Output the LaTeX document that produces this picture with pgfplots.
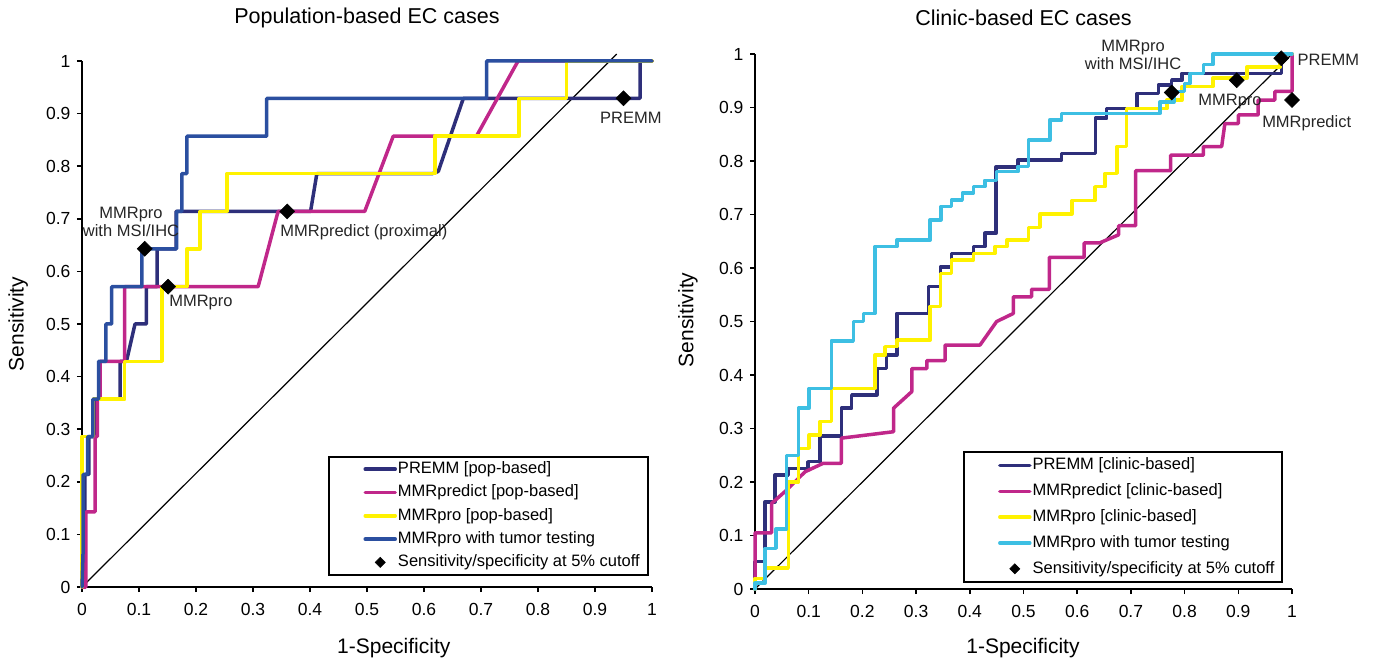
\documentclass[border=0pt]{standalone}
\usepackage{pgfplots}
\pgfplotsset{compat=1.18}
\usepackage{fontspec}
\setmainfont{Liberation Sans}
\definecolor{premm}{HTML}{2E2F7A}
\definecolor{mmrpredict}{HTML}{C0278A}
\definecolor{mmrpro}{HTML}{FFF200}
\definecolor{tumorL}{HTML}{2B4FA0}
\definecolor{tumorR}{HTML}{3DBFE3}

\tikzset{lab/.style={font=\fontsize{16.5}{18}\selectfont, text=black!85}}
\pgfplotsset{
  rocaxis/.style={
    scale only axis,
    xmin=0, xmax=1, ymin=0, ymax=1,
    axis x line=bottom, axis y line=left,
    axis line style={-, line width=2pt, black},
    tick align=outside,
    major tick length=5pt,
    tick style={line width=1.5pt, black},
    xtick={0,0.1,0.2,0.3,0.4,0.5,0.6,0.7,0.8,0.9,1},
    ytick={0,0.1,0.2,0.3,0.4,0.5,0.6,0.7,0.8,0.9,1},
    xticklabels={0,0.1,0.2,0.3,0.4,0.5,0.6,0.7,0.8,0.9,1},
    yticklabels={0,0.1,0.2,0.3,0.4,0.5,0.6,0.7,0.8,0.9,1},
    ticklabel style={font=\fontsize{17.5}{20}\selectfont},
    xticklabel style={yshift=-8pt},
    yticklabel style={xshift=-3pt},
    /pgf/number format/assume math mode=true,
    clip=false,
    label style={font=\fontsize{21}{25}\selectfont},
    legend cell align=left,
    legend style={
      draw=black, line width=2pt,
      font=\fontsize{16.5}{19}\selectfont,
      inner xsep=7pt, inner ysep=4pt,
      row sep=7pt,
      nodes={inner xsep=1pt, inner ysep=0pt, text height=12.5pt, text depth=3.8pt},
    },
  },
  roc/.style={line width=3.5pt, line join=round, line cap=round,
    legend image code/.code={\path[draw=none] (0pt,0pt) -- (29pt,0pt); \draw[##1] (29pt,0pt) -- (59pt,0pt);}},
  diam/.style={only marks, mark=square*, mark size=5.3pt, mark options={rotate=45, fill=black, draw=black, line width=0.5pt}},
  diamleg/.style={only marks, mark=square*, mark size=3.6pt, mark options={rotate=45, fill=black, draw=black, line width=0.5pt},
    legend image code/.code={\path[draw=none] (0pt,0pt) -- (29pt,0pt); \draw[##1] plot coordinates {(44pt,0pt)};}},
}

\begin{document}
\begin{tikzpicture}[x=1pt,y=1pt]
\useasboundingbox (0,0) rectangle (1373,664);

% ---------------- Left: population-based ----------------
\begin{axis}[rocaxis,
  at={(82pt,77pt)}, anchor=south west,
  width=570pt, height=526pt,
  title={Population-based EC cases},
  title style={at={(axis description cs:0.5,1.0706)}, anchor=center, font=\fontsize{21.5}{25}\selectfont},
  xlabel={1-Specificity},
  xlabel style={at={(axis description cs:0.547,-0.116)}, anchor=center},
  ylabel={Sensitivity},
  ylabel style={at={(axis description cs:-0.112,0.5)}, anchor=center},
  legend style={at={(axis description cs:0.432,0.249)}, anchor=north west},
]
\addplot[black, line width=1.2pt, forget plot] coordinates {(0,0) (0.938,1.013)};

\addplot[roc, premm] coordinates {
(0,0) (0,0.071) (0.005,0.071) (0.005,0.214) (0.012,0.214) (0.012,0.286) (0.022,0.286) (0.022,0.357)
(0.067,0.357) (0.067,0.429) (0.078,0.429) (0.093,0.5) (0.113,0.5) (0.113,0.571) (0.132,0.571)
(0.132,0.643) (0.165,0.643) (0.165,0.714) (0.401,0.714) (0.412,0.786) (0.615,0.786) (0.625,0.79)
(0.669,0.929) (0.979,0.929) (0.979,1) (1,1)};
\addlegendentry{PREMM [pop-based]}

\addplot[roc, mmrpredict] coordinates {
(0,0) (0.007,0) (0.007,0.143) (0.023,0.143) (0.023,0.286) (0.027,0.286) (0.027,0.357) (0.032,0.357)
(0.032,0.429) (0.075,0.429) (0.075,0.571) (0.309,0.571) (0.344,0.714) (0.496,0.714) (0.546,0.857)
(0.692,0.857) (0.765,1) (1,1)};
\addlegendentry{MMRpredict [pop-based]}

\addplot[roc, mmrpro] coordinates {
(0,0) (0,0.286) (0.02,0.286) (0.02,0.357) (0.075,0.357) (0.075,0.429) (0.14,0.429) (0.14,0.571)
(0.184,0.571) (0.184,0.643) (0.207,0.643) (0.207,0.714) (0.254,0.714) (0.254,0.786) (0.619,0.786)
(0.619,0.857) (0.767,0.857) (0.767,0.929) (0.85,0.929) (0.85,1) (1,1)};
\addlegendentry{MMRpro [pop-based]}

\addplot[roc, tumorL] coordinates {
(0,0) (0.002,0.071) (0.002,0.214) (0.01,0.214) (0.01,0.286) (0.019,0.286) (0.019,0.357) (0.029,0.357)
(0.029,0.429) (0.042,0.429) (0.042,0.5) (0.052,0.5) (0.052,0.571) (0.105,0.571) (0.105,0.643)
(0.166,0.643) (0.166,0.714) (0.175,0.714) (0.175,0.786) (0.184,0.786) (0.184,0.857) (0.324,0.857)
(0.324,0.929) (0.71,0.929) (0.71,1) (1,1)};
\addlegendentry{MMRpro with tumor testing}

\addplot[diam, forget plot] coordinates {(0.11,0.643) (0.151,0.571) (0.36,0.714) (0.95,0.929)};
\addlegendimage{diamleg}
\addlegendentry{Sensitivity/specificity at 5\% cutoff}

\node[lab, align=center] at (axis cs:0.086,0.694) {MMRpro\\with MSI/IHC};
\node[lab, anchor=west] at (axis cs:0.147,0.54) {MMRpro};
\node[lab, anchor=west] at (axis cs:0.342,0.675) {MMRpredict (proximal)};
\node[lab] at (axis cs:0.963,0.892) {PREMM};
\end{axis}

% ---------------- Right: clinic-based ----------------
\begin{axis}[rocaxis,
  at={(755pt,75pt)}, anchor=south west,
  width=537pt, height=535pt,
  title={Clinic-based EC cases},
  title style={at={(axis description cs:0.5,1.0558)}, anchor=center, font=\fontsize{21.5}{25}\selectfont},
  xlabel={1-Specificity},
  xlabel style={at={(axis description cs:0.499,-0.11)}, anchor=center},
  ylabel={Sensitivity},
  ylabel style={at={(axis description cs:-0.125,0.503)}, anchor=center},
  legend style={at={(axis description cs:0.387,0.258)}, anchor=north west, row sep=9.5pt, inner ysep=5.5pt},
]
\addplot[black, line width=1.2pt, forget plot] coordinates {(0,0) (1,1)};

\addplot[roc, premm] coordinates {
(0,0) (0,0.051) (0.019,0.051) (0.019,0.163) (0.037,0.163) (0.037,0.213) (0.062,0.213) (0.062,0.225)
(0.099,0.225) (0.099,0.238) (0.121,0.238) (0.121,0.286) (0.161,0.286) (0.161,0.338) (0.18,0.338)
(0.18,0.363) (0.227,0.363) (0.227,0.412) (0.245,0.412) (0.245,0.437) (0.264,0.437) (0.264,0.515)
(0.323,0.515) (0.323,0.565) (0.345,0.565) (0.345,0.602) (0.366,0.602) (0.366,0.627) (0.407,0.627)
(0.407,0.64) (0.428,0.64) (0.428,0.665) (0.449,0.665) (0.449,0.789) (0.49,0.789) (0.49,0.802)
(0.571,0.802) (0.571,0.814) (0.634,0.814) (0.634,0.88) (0.655,0.88) (0.655,0.898) (0.711,0.898)
(0.711,0.926) (0.751,0.926) (0.751,0.942) (0.776,0.942) (0.776,0.951) (0.795,0.951) (0.795,0.964)
(0.98,0.964) (0.98,1) (1,1)};
\addlegendentry{PREMM [clinic-based]}

\addplot[roc, mmrpredict] coordinates {
(0,0) (0,0.105) (0.031,0.105) (0.031,0.16) (0.059,0.185) (0.093,0.219) (0.127,0.235) (0.161,0.235)
(0.161,0.282) (0.258,0.294) (0.258,0.338) (0.292,0.369) (0.292,0.412) (0.32,0.412) (0.32,0.427)
(0.354,0.427) (0.354,0.456) (0.419,0.456) (0.45,0.5) (0.481,0.515) (0.481,0.546) (0.515,0.546)
(0.515,0.56) (0.548,0.56) (0.548,0.62) (0.613,0.62) (0.613,0.647) (0.642,0.647) (0.677,0.662)
(0.677,0.679) (0.709,0.679) (0.709,0.782) (0.774,0.782) (0.774,0.811) (0.835,0.811) (0.835,0.827)
(0.869,0.827) (0.875,0.87) (0.9,0.87) (0.9,0.886) (0.937,0.886) (0.937,0.914) (0.968,0.914)
(0.968,0.93) (1,0.93) (1,1)};
\addlegendentry{MMRpredict [clinic-based]}

\addplot[roc, mmrpro] coordinates {
(0,0) (0,0.02) (0.019,0.02) (0.019,0.039) (0.062,0.039) (0.062,0.2) (0.081,0.2) (0.081,0.263)
(0.101,0.263) (0.101,0.288) (0.121,0.288) (0.121,0.313) (0.142,0.313) (0.142,0.375) (0.223,0.375)
(0.223,0.437) (0.242,0.437) (0.242,0.453) (0.264,0.453) (0.264,0.465) (0.326,0.465) (0.326,0.528)
(0.345,0.528) (0.345,0.59) (0.366,0.59) (0.366,0.615) (0.407,0.615) (0.407,0.627) (0.447,0.627)
(0.447,0.64) (0.469,0.64) (0.469,0.652) (0.509,0.652) (0.509,0.676) (0.531,0.676) (0.531,0.701)
(0.59,0.701) (0.59,0.726) (0.633,0.726) (0.633,0.752) (0.652,0.752) (0.652,0.777) (0.674,0.777)
(0.674,0.827) (0.692,0.827) (0.692,0.898) (0.767,0.898) (0.767,0.914) (0.795,0.914) (0.795,0.939)
(0.853,0.939) (0.853,0.955) (0.916,0.955) (0.916,0.976) (0.978,0.976) (0.978,1) (1,1)};
\addlegendentry{MMRpro [clinic-based]}

\addplot[roc, tumorR] coordinates {
(0,0) (0,0.011) (0.019,0.011) (0.019,0.076) (0.039,0.076) (0.039,0.112) (0.059,0.112) (0.059,0.25)
(0.081,0.25) (0.081,0.338) (0.101,0.338) (0.101,0.375) (0.142,0.375) (0.142,0.464) (0.183,0.464)
(0.183,0.5) (0.202,0.5) (0.202,0.515) (0.223,0.515) (0.223,0.64) (0.264,0.64) (0.264,0.652)
(0.326,0.652) (0.326,0.69) (0.346,0.69) (0.346,0.715) (0.366,0.715) (0.366,0.727) (0.386,0.727)
(0.386,0.74) (0.407,0.74) (0.407,0.752) (0.428,0.752) (0.428,0.764) (0.45,0.764) (0.45,0.78)
(0.49,0.78) (0.49,0.79) (0.509,0.79) (0.509,0.839) (0.549,0.839) (0.549,0.877) (0.571,0.877)
(0.571,0.889) (0.754,0.889) (0.754,0.91) (0.78,0.91) (0.78,0.93) (0.8,0.93) (0.8,0.945)
(0.81,0.945) (0.81,0.964) (0.835,0.964) (0.835,0.98) (0.853,0.98) (0.853,1) (1,1)};
\addlegendentry{MMRpro with tumor testing}

\addplot[diam, forget plot] coordinates {(0.776,0.928) (0.897,0.951) (0.98,0.992) (1.0,0.914)};
\addlegendimage{diamleg}
\addlegendentry{Sensitivity/specificity at 5\% cutoff}

\node[lab, align=center] at (axis cs:0.704,0.998) {MMRpro\\with MSI/IHC};
\node[lab, anchor=west] at (axis cs:0.819,0.911) {MMRpro};
\node[lab, anchor=west] at (axis cs:1.004,0.989) {PREMM};
\node[lab, anchor=west] at (axis cs:0.938,0.871) {MMRpredict};
\end{axis}
\end{tikzpicture}
\end{document}
